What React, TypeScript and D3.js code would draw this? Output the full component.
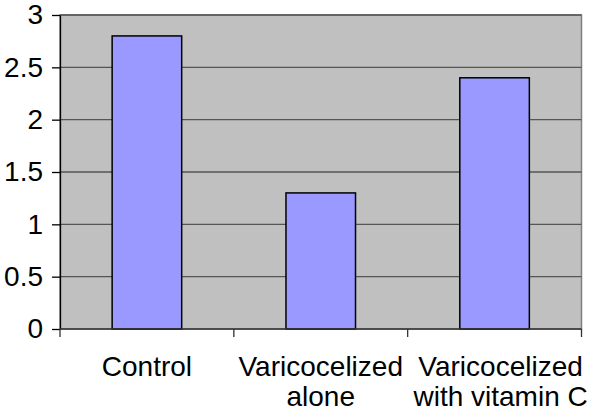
import * as d3 from 'd3';
import { useEffect, useRef } from 'react';

const categories: string[][] = [['Control'], ['Varicocelized', 'alone'], ['Varicocelized', 'with vitamin C']];
const values = [2.8, 1.3, 2.4];
const yTicks = [0, 0.5, 1, 1.5, 2, 2.5, 3];
const yTickLabels = ['0', '0.5', '1', '1.5', '2', '2.5', '3'];

const App = () => {
  const svgRef = useRef<SVGSVGElement | null>(null);

  useEffect(() => {
    if (!svgRef.current) return;
    d3.select(svgRef.current).selectAll('*').remove();

    const W = 600;
    const H = 413;
    const margin = { top: 15, right: 18.5, bottom: 84, left: 60 };
    const width = W - margin.left - margin.right;
    const height = H - margin.top - margin.bottom;

    const svg = d3.select(svgRef.current)
      .attr('width', W)
      .attr('height', H)
      .style('display', 'block')
      .style('font-family', '"Liberation Sans", Arial, sans-serif')
      .append('g')
      .attr('transform', `translate(${margin.left},${margin.top})`);

    const keys = categories.map(c => c.join(' '));

    const x = d3.scaleBand()
      .domain(keys)
      .range([0, width])
      .paddingInner(0.6)
      .paddingOuter(0.3);

    const y = d3.scaleLinear()
      .domain([0, 3])
      .range([height, 0]);

    // plot background
    svg.append('rect')
      .attr('x', 0)
      .attr('y', 0)
      .attr('width', width)
      .attr('height', height)
      .attr('fill', '#c0c0c0')
      .attr('stroke', '#808080')
      .attr('stroke-width', 1.5);

    // gridlines
    svg.selectAll('.grid')
      .data(yTicks.filter(t => t > 0))
      .join('line')
      .attr('class', 'grid')
      .attr('x1', 0)
      .attr('x2', width)
      .attr('y1', d => y(d))
      .attr('y2', d => y(d))
      .attr('stroke', '#555555')
      .attr('stroke-width', 1.3);

    // bars
    svg.selectAll('.bar')
      .data(values)
      .join('rect')
      .attr('class', 'bar')
      .attr('x', (_, i) => x(keys[i]) || 0)
      .attr('y', d => y(d))
      .attr('width', x.bandwidth())
      .attr('height', d => height - y(d))
      .attr('fill', '#9999ff')
      .attr('stroke', '#000')
      .attr('stroke-width', 1.5);

    // y axis
    const yAxis = svg.append('g')
      .call(d3.axisLeft(y)
        .tickValues(yTicks)
        .tickFormat((_, i) => yTickLabels[i])
        .tickSize(8)
        .tickSizeOuter(0)
        .tickPadding(9));
    yAxis.select('.domain').attr('stroke', '#000').attr('stroke-width', 1.3);
    yAxis.selectAll('line').attr('stroke', '#000').attr('stroke-width', 1.3);
    yAxis.selectAll('text')
      .style('font-size', '28px')
      .style('font-family', '"Liberation Sans", Arial, sans-serif')
      .attr('fill', '#000');

    // x axis line and ticks at band boundaries
    svg.append('line')
      .attr('x1', 0)
      .attr('x2', width)
      .attr('y1', height)
      .attr('y2', height)
      .attr('stroke', '#333')
      .attr('stroke-width', 1.5);

    const step = x.step();
    const boundaries = d3.range(keys.length + 1).map(i => (i === 0 ? 0 : (x(keys[i - 1]) || 0) + x.bandwidth() / 2 + step / 2));
    svg.selectAll('.xtick')
      .data(boundaries)
      .join('line')
      .attr('class', 'xtick')
      .attr('x1', d => Math.min(d, width))
      .attr('x2', d => Math.min(d, width))
      .attr('y1', height)
      .attr('y2', height + 8)
      .attr('stroke', '#333')
      .attr('stroke-width', 1.3);

    // category labels
    const labels = svg.selectAll('.xlabel')
      .data(categories)
      .join('text')
      .attr('class', 'xlabel')
      .attr('text-anchor', 'middle')
      .attr('x', (_, i) => (x(keys[i]) || 0) + x.bandwidth() / 2 + (i === 2 ? 6 : 0))
      .attr('y', height + 47)
      .style('font-size', '28px')
      .attr('fill', '#000');

    labels.selectAll('tspan')
      .data(d => d)
      .join('tspan')
      .attr('x', function () {
        return (this.parentNode as SVGTextElement).getAttribute('x');
      })
      .attr('dy', (_, i) => (i === 0 ? 0 : 30))
      .text(d => d);
  }, []);

  return <svg ref={svgRef} style={{ position: 'absolute', left: 0, top: 0 }}></svg>;
};

export default App;
